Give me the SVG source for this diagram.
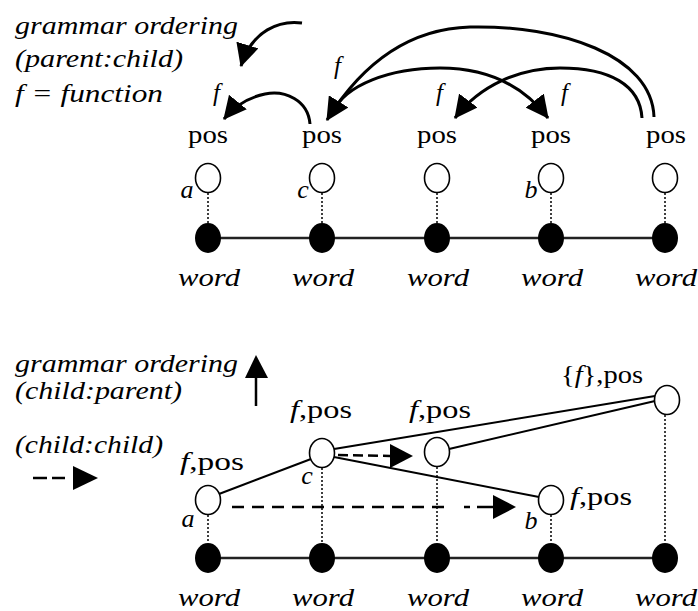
<svg xmlns="http://www.w3.org/2000/svg" width="698" height="611" viewBox="0 0 698 611" font-family="Liberation Serif, DejaVu Serif, serif">
<style>
  text{font-family:'Liberation Serif','Times New Roman',serif;font-size:25px;fill:#000}
  .i{font-style:italic}
  .m{text-anchor:middle}
  .lbl{font-size:26px}
  .arc{fill:none;stroke:#000;stroke-width:3}
  .ln{fill:none;stroke:#000;stroke-width:2}
  .base{stroke:#222;stroke-width:2.5}
  .dot{fill:#000}
  .open{fill:#fff;stroke:#000;stroke-width:1.6}
  .vt{stroke:#000;stroke-width:1.5;stroke-dasharray:2 2}
  .dash{fill:none;stroke:#000;stroke-width:2.5;stroke-dasharray:12 8}
  .head{fill:#000}
</style>
<defs>
  <marker id="ah" viewBox="0 0 22 22" refX="21" refY="11" markerWidth="23" markerHeight="23" markerUnits="userSpaceOnUse" orient="auto">
    <path d="M0,0 L22,11 L0,22 Z" fill="#000"/>
  </marker>
</defs>

<!-- ===== upper panel: parent:child ordering ===== -->
<g id="legend-top">
  <text class="i" x="15" y="34" textLength="223" lengthAdjust="spacingAndGlyphs">grammar ordering</text>
  <text class="i" x="15" y="67" textLength="168" lengthAdjust="spacingAndGlyphs">(parent:child)</text>
  <text class="i" x="15" y="102" textLength="148" lengthAdjust="spacingAndGlyphs">f = function</text>
  <path class="arc" d="M302,23 C280,20 252,30 241,66" marker-end="url(#ah)"/>
</g>

<line class="base" x1="208" y1="238" x2="665" y2="238"/>

<g id="top-n1">
  <text class="m" x="208" y="143" textLength="40" lengthAdjust="spacingAndGlyphs">pos</text>
  <line class="vt" x1="208" y1="193" x2="208" y2="223"/>
  <ellipse class="open" cx="208" cy="178" rx="12.5" ry="14.5"/>
  <ellipse class="dot" cx="208" cy="238" rx="13" ry="15"/>
  <text class="i m lbl" x="187" y="198">a</text>
  <text class="i m lbl" x="209" y="286" textLength="62" lengthAdjust="spacingAndGlyphs">word</text>
</g>
<g id="top-n2">
  <text class="m" x="322" y="143" textLength="40" lengthAdjust="spacingAndGlyphs">pos</text>
  <line class="vt" x1="322" y1="193" x2="322" y2="223"/>
  <ellipse class="open" cx="322" cy="178" rx="12.5" ry="14.5"/>
  <ellipse class="dot" cx="322" cy="238" rx="13" ry="15"/>
  <text class="i m lbl" x="303" y="198">c</text>
  <text class="i m lbl" x="323" y="286" textLength="62" lengthAdjust="spacingAndGlyphs">word</text>
</g>
<g id="top-n3">
  <text class="m" x="437" y="143" textLength="40" lengthAdjust="spacingAndGlyphs">pos</text>
  <line class="vt" x1="437" y1="193" x2="437" y2="223"/>
  <ellipse class="open" cx="437" cy="178" rx="12.5" ry="14.5"/>
  <ellipse class="dot" cx="437" cy="238" rx="13" ry="15"/>
  <text class="i m lbl" x="438" y="286" textLength="62" lengthAdjust="spacingAndGlyphs">word</text>
</g>
<g id="top-n4">
  <text class="m" x="551" y="143" textLength="40" lengthAdjust="spacingAndGlyphs">pos</text>
  <line class="vt" x1="551" y1="193" x2="551" y2="223"/>
  <ellipse class="open" cx="551" cy="178" rx="12.5" ry="14.5"/>
  <ellipse class="dot" cx="551" cy="238" rx="13" ry="15"/>
  <text class="i m lbl" x="531" y="198">b</text>
  <text class="i m lbl" x="552" y="286" textLength="62" lengthAdjust="spacingAndGlyphs">word</text>
</g>
<g id="top-n5">
  <text class="m" x="666" y="143" textLength="40" lengthAdjust="spacingAndGlyphs">pos</text>
  <line class="vt" x1="665" y1="193" x2="665" y2="223"/>
  <ellipse class="open" cx="665" cy="178" rx="12.5" ry="14.5"/>
  <ellipse class="dot" cx="665" cy="238" rx="13" ry="15"/>
  <text class="i m lbl" x="666" y="286" textLength="62" lengthAdjust="spacingAndGlyphs">word</text>
</g>

<g id="top-connectors">
  <path class="arc" d="M310,124 C308,100 285,90 265,94 C246,98 233,108 224,119" marker-end="url(#ah)"/>
  <path class="arc" d="M654,117 C652,55 560,25 470,27 C400,29 355,75 327,120" marker-end="url(#ah)"/>
  <path class="arc" d="M642,118 C640,85 610,68 560,68 C520,68 480,85 455,118" marker-end="url(#ah)"/>
  <path class="arc" d="M333,112 C345,85 390,68 440,68 C490,68 525,88 548,118" marker-end="url(#ah)"/>
  <text class="i" x="213" y="101">f</text>
  <text class="i" x="334" y="74">f</text>
  <text class="i" x="436" y="101">f</text>
  <text class="i" x="561" y="101">f</text>
</g>

<!-- ===== lower panel: child:parent and child:child ordering ===== -->
<g id="legend-bottom">
  <text class="i" x="15" y="372" textLength="223" lengthAdjust="spacingAndGlyphs">grammar ordering</text>
  <text class="i" x="15" y="399" textLength="167" lengthAdjust="spacingAndGlyphs">(child:parent)</text>
  <text class="i" x="15" y="453" textLength="148" lengthAdjust="spacingAndGlyphs">(child:child)</text>
  <line x1="256" y1="376" x2="256" y2="406" stroke="#000" stroke-width="2.5"/>
  <polygon class="head" points="245,378 268,378 256,355"/>
  <line x1="33" y1="478" x2="47" y2="478" stroke="#000" stroke-width="2.5"/>
  <line x1="52" y1="478" x2="65" y2="478" stroke="#000" stroke-width="2.5"/>
  <polygon class="head" points="73,466 73,490 98,478"/>
</g>

<line class="base" x1="208" y1="558" x2="665" y2="558"/>

<g id="bottom-connectors">
  <line class="ln" x1="219" y1="494" x2="311" y2="459"/>
  <line class="ln" x1="334" y1="449" x2="655" y2="396"/>
  <line class="ln" x1="449" y1="449" x2="655" y2="401"/>
  <line class="ln" x1="334" y1="457" x2="539" y2="497"/>
  <path d="M338,455 L390,456" fill="none" stroke="#000" stroke-width="2.5" stroke-dasharray="10 5"/>
  <polygon class="head" points="390,444 390,468 413,456"/>
  <path class="dash" d="M232,507 L452,507"/>
  <line x1="464" y1="507" x2="470" y2="507" stroke="#000" stroke-width="2.5"/>
  <line x1="477" y1="507" x2="493" y2="507" stroke="#000" stroke-width="2.5"/>
  <polygon class="head" points="493,495 493,519 516,507"/>
</g>

<g id="bot-n1">
  <line class="vt" x1="208" y1="515" x2="208" y2="543"/>
  <ellipse class="open" cx="208" cy="500" rx="12.5" ry="14.5"/>
  <ellipse class="dot" cx="208" cy="558" rx="13" ry="15"/>
  <text x="180" y="470" textLength="64" lengthAdjust="spacingAndGlyphs"><tspan class="i">f</tspan>,pos</text>
  <text class="i m lbl" x="188" y="527">a</text>
  <text class="i m lbl" x="209" y="606" textLength="62" lengthAdjust="spacingAndGlyphs">word</text>
</g>
<g id="bot-n2">
  <line class="vt" x1="322" y1="468" x2="322" y2="543"/>
  <ellipse class="open" cx="322" cy="453" rx="12.5" ry="14.5"/>
  <ellipse class="dot" cx="322" cy="558" rx="13" ry="15"/>
  <text x="290" y="418" textLength="62" lengthAdjust="spacingAndGlyphs"><tspan class="i">f</tspan>,pos</text>
  <text class="i m lbl" x="307" y="484">c</text>
  <text class="i m lbl" x="323" y="606" textLength="62" lengthAdjust="spacingAndGlyphs">word</text>
</g>
<g id="bot-n3">
  <line class="vt" x1="437" y1="467" x2="437" y2="543"/>
  <ellipse class="open" cx="437" cy="452" rx="12.5" ry="14.5"/>
  <ellipse class="dot" cx="437" cy="558" rx="13" ry="15"/>
  <text x="409" y="418" textLength="62" lengthAdjust="spacingAndGlyphs"><tspan class="i">f</tspan>,pos</text>
  <text class="i m lbl" x="438" y="606" textLength="62" lengthAdjust="spacingAndGlyphs">word</text>
</g>
<g id="bot-n4">
  <line class="vt" x1="551" y1="515" x2="551" y2="543"/>
  <ellipse class="open" cx="551" cy="500" rx="12.5" ry="14.5"/>
  <ellipse class="dot" cx="551" cy="558" rx="13" ry="15"/>
  <text x="570" y="505" textLength="62" lengthAdjust="spacingAndGlyphs"><tspan class="i">f</tspan>,pos</text>
  <text class="i m lbl" x="531" y="529">b</text>
  <text class="i m lbl" x="552" y="606" textLength="62" lengthAdjust="spacingAndGlyphs">word</text>
</g>
<g id="bot-n5">
  <line class="vt" x1="665" y1="415" x2="665" y2="543"/>
  <ellipse class="open" cx="667" cy="400" rx="12.5" ry="14.5"/>
  <ellipse class="dot" cx="665" cy="558" rx="13" ry="15"/>
  <text x="561" y="383" textLength="82" lengthAdjust="spacingAndGlyphs">{<tspan class="i">f</tspan>},pos</text>
  <text class="i m lbl" x="666" y="606" textLength="62" lengthAdjust="spacingAndGlyphs">word</text>
</g>
</svg>
